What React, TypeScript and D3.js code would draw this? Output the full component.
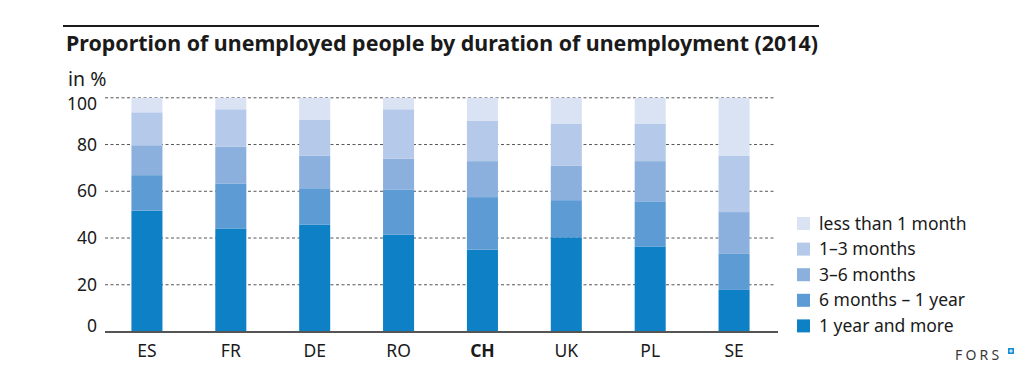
import React from "react";
import * as d3 from "d3";

const countries = ["ES", "FR", "DE", "RO", "CH", "UK", "PL", "SE"];
const seriesNames = ["1 year and more", "6 months – 1 year", "3–6 months", "1–3 months", "less than 1 month"];
const oneYearPlus = [51.7, 44.1, 45.8, 41.4, 35.0, 40.3, 36.4, 17.8];
const sixToTwelve = [15.2, 19.1, 15.5, 19.4, 22.5, 15.9, 19.3, 15.4];
const threeToSix = [12.8, 15.9, 14.0, 13.2, 15.4, 14.7, 17.2, 17.9];
const oneToThree = [14.1, 16.0, 15.4, 21.1, 17.2, 17.9, 15.9, 24.2];
const lessThanOne = [6.2, 4.9, 9.3, 4.9, 9.9, 11.2, 11.2, 24.7];
const yTicks = [0, 20, 40, 60, 80, 100];
const colors = ["#0e80c6", "#5c9bd4", "#8cb0de", "#b5c9ea", "#dae3f4"];

const FONT = "'Noto Sans', 'Open Sans', sans-serif";

export default function App() {
  const W = 1035, H = 383;
  const x = d3.scaleBand<string>().domain(countries).range([105, 776]).paddingInner(0.63).paddingOuter(0.315);
  const y = d3.scaleLinear().domain([0, 100]).range([331.5, 97.8]);

  const rows = countries.map((c, i) => ({
    c,
    s0: oneYearPlus[i], s1: sixToTwelve[i], s2: threeToSix[i], s3: oneToThree[i], s4: lessThanOne[i],
  }));
  const keys = ["s0", "s1", "s2", "s3", "s4"];
  const stacked = d3.stack<any>().keys(keys)(rows);

  const legendOrder = [4, 3, 2, 1, 0];
  const tickDy = (t: number) => (t === 0 ? 0 : t === 100 ? 12 : 6);

  return (
    <svg width={W} height={H} style={{ position: "absolute", left: 0, top: 0, background: "#fff" }} fontFamily={FONT}>
      <line x1={63} x2={819} y1={26} y2={26} stroke="#1a1a1a" strokeWidth={2.2} />
      <text x={66} y={51} fontSize={21.3} fontWeight="bold" fill="#1a1a1a" textLength={752} lengthAdjust="spacingAndGlyphs">
        Proportion of unemployed people by duration of unemployment (2014)
      </text>
      <text x={68} y={86} fontSize={19.5} fill="#1a1a1a">in %</text>

      {yTicks.map((t) => (
        <g key={t}>
          {t > 0 && (
            <line x1={105} x2={776} y1={y(t)} y2={y(t)} stroke="#555" strokeWidth={1} strokeDasharray="3,2.5" />
          )}
          <text x={97} y={y(t) + tickDy(t)} textAnchor="end" fontSize={17.5} fill="#1a1a1a">{t}</text>
        </g>
      ))}

      {stacked.map((layer, li) => (
        <g key={li} fill={colors[li]}>
          {layer.map((d: any, i: number) => (
            <rect key={i} x={x(countries[i])} width={x.bandwidth()} y={y(d[1])} height={y(d[0]) - y(d[1])} />
          ))}
        </g>
      ))}

      <line x1={105} x2={778} y1={y(0) + 0.5} y2={y(0) + 0.5} stroke="#555" strokeWidth={2} />

      {countries.map((c) => (
        <text key={c} x={(x(c) as number) + x.bandwidth() / 2} y={357} textAnchor="middle" fontSize={17.5}
          fontWeight={c === "CH" ? "bold" : "normal"} fill="#1a1a1a">{c}</text>
      ))}

      {legendOrder.map((si, k) => (
        <g key={si} transform={`translate(797, ${223.5 + k * 25.6})`}>
          <rect x={0} y={-6.5} width={13} height={13} fill={colors[si]} />
          <text x={22} y={6} fontSize={17.5} fill="#1a1a1a">{seriesNames[si]}</text>
        </g>
      ))}

      <text x={955} y={360} fontSize={14} letterSpacing={3.2} fill="#3a3a3a">FORS</text>
      <rect x={1008} y={348} width={6} height={6} fill="#1a8fd6" />
      <rect x={1010.5} y={349.3} width={1} height={3.4} fill="#fff" />
      <rect x={1009.3} y={350.5} width={3.4} height={1} fill="#fff" />
    </svg>
  );
}
